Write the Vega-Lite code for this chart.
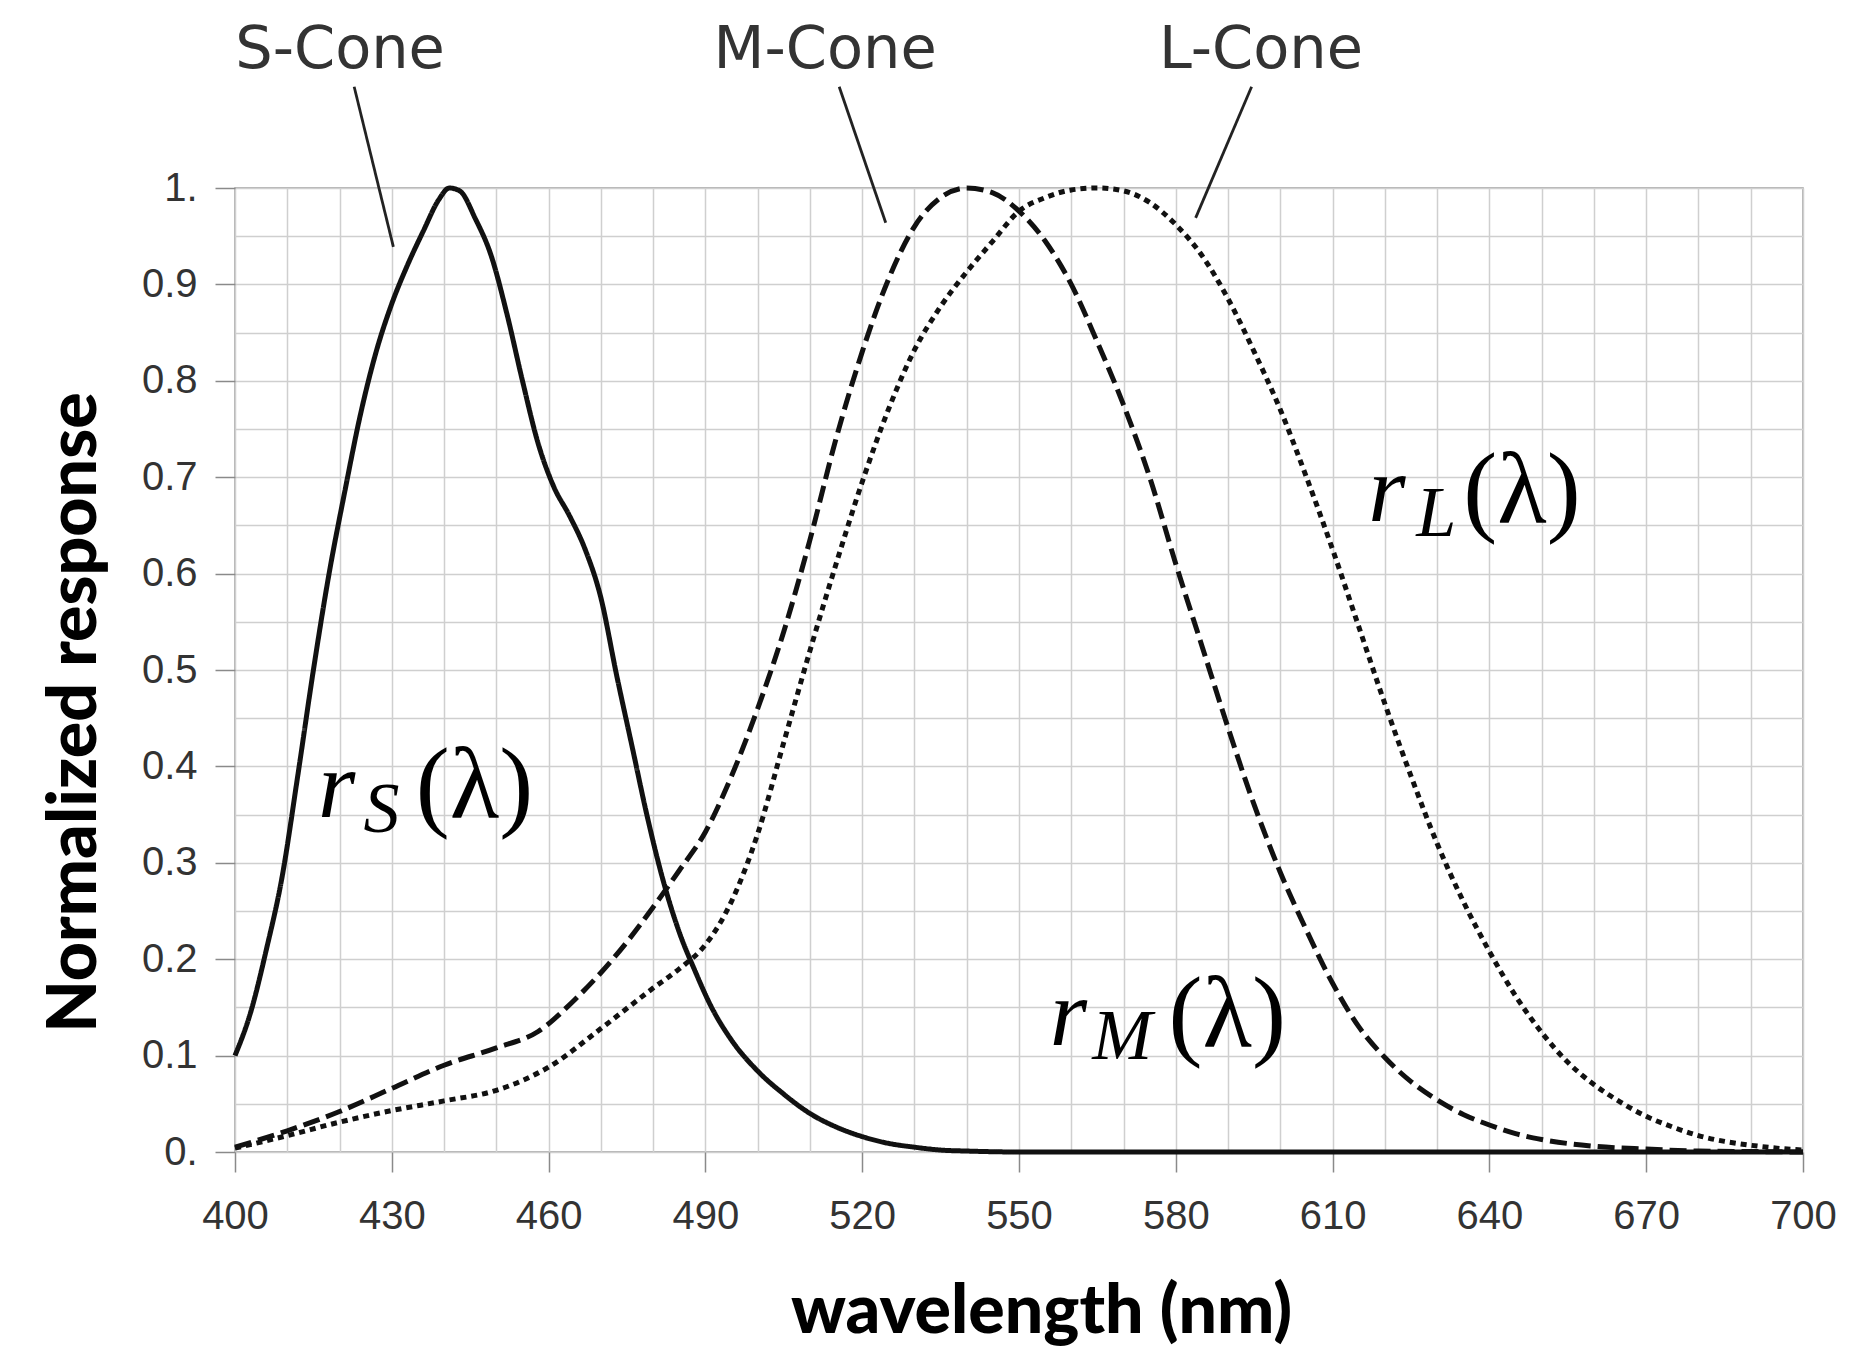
{
  "$schema": "https://vega.github.io/schema/vega-lite/v6.json",
  "width": 1568,
  "height": 964,
  "autosize": {"type": "none"},
  "padding": {"left": 235, "top": 188, "right": 65, "bottom": 199},
  "background": "white",
  "config": {
    "view": {"stroke": "#9a9a9a", "strokeWidth": 1.5}
  },
  "datasets": {
    "curves": [
      {"cone":"S","nm":400,"r":0.10},{"cone":"S","nm":403,"r":0.145},{"cone":"S","nm":406,"r":0.21},{"cone":"S","nm":409,"r":0.285},{"cone":"S","nm":412,"r":0.39},{"cone":"S","nm":415,"r":0.5},{"cone":"S","nm":418,"r":0.6},{"cone":"S","nm":421,"r":0.685},{"cone":"S","nm":424,"r":0.765},{"cone":"S","nm":427,"r":0.83},{"cone":"S","nm":430,"r":0.88},{"cone":"S","nm":433,"r":0.92},{"cone":"S","nm":436,"r":0.955},{"cone":"S","nm":439,"r":0.988},{"cone":"S","nm":441,"r":1.0},{"cone":"S","nm":443,"r":0.997},{"cone":"S","nm":446,"r":0.968},{"cone":"S","nm":449,"r":0.93},{"cone":"S","nm":452,"r":0.87},{"cone":"S","nm":455,"r":0.8},{"cone":"S","nm":458,"r":0.735},{"cone":"S","nm":461,"r":0.69},{"cone":"S","nm":464,"r":0.66},{"cone":"S","nm":467,"r":0.625},{"cone":"S","nm":470,"r":0.575},{"cone":"S","nm":473,"r":0.495},{"cone":"S","nm":476,"r":0.42},{"cone":"S","nm":479,"r":0.345},{"cone":"S","nm":482,"r":0.28},{"cone":"S","nm":485,"r":0.228},{"cone":"S","nm":488,"r":0.188},{"cone":"S","nm":491,"r":0.152},{"cone":"S","nm":495,"r":0.116},{"cone":"S","nm":500,"r":0.084},{"cone":"S","nm":505,"r":0.06},{"cone":"S","nm":510,"r":0.04},{"cone":"S","nm":515,"r":0.026},{"cone":"S","nm":520,"r":0.016},{"cone":"S","nm":525,"r":0.009},{"cone":"S","nm":530,"r":0.005},{"cone":"S","nm":535,"r":0.002},{"cone":"S","nm":540,"r":0.001},{"cone":"S","nm":550,"r":0},{"cone":"S","nm":600,"r":0},{"cone":"S","nm":650,"r":0},{"cone":"S","nm":700,"r":0},
      {"cone":"M","nm":400,"r":0.005},{"cone":"M","nm":410,"r":0.022},{"cone":"M","nm":420,"r":0.042},{"cone":"M","nm":430,"r":0.066},{"cone":"M","nm":440,"r":0.09},{"cone":"M","nm":450,"r":0.108},{"cone":"M","nm":458,"r":0.125},{"cone":"M","nm":465,"r":0.158},{"cone":"M","nm":470,"r":0.186},{"cone":"M","nm":475,"r":0.218},{"cone":"M","nm":480,"r":0.254},{"cone":"M","nm":485,"r":0.292},{"cone":"M","nm":490,"r":0.332},{"cone":"M","nm":495,"r":0.39},{"cone":"M","nm":500,"r":0.46},{"cone":"M","nm":505,"r":0.54},{"cone":"M","nm":510,"r":0.635},{"cone":"M","nm":515,"r":0.74},{"cone":"M","nm":520,"r":0.83},{"cone":"M","nm":525,"r":0.905},{"cone":"M","nm":530,"r":0.96},{"cone":"M","nm":535,"r":0.99},{"cone":"M","nm":540,"r":1.0},{"cone":"M","nm":545,"r":0.995},{"cone":"M","nm":550,"r":0.976},{"cone":"M","nm":555,"r":0.945},{"cone":"M","nm":560,"r":0.9},{"cone":"M","nm":565,"r":0.84},{"cone":"M","nm":570,"r":0.775},{"cone":"M","nm":575,"r":0.7},{"cone":"M","nm":580,"r":0.61},{"cone":"M","nm":585,"r":0.525},{"cone":"M","nm":590,"r":0.44},{"cone":"M","nm":595,"r":0.36},{"cone":"M","nm":600,"r":0.29},{"cone":"M","nm":605,"r":0.23},{"cone":"M","nm":610,"r":0.175},{"cone":"M","nm":615,"r":0.13},{"cone":"M","nm":620,"r":0.098},{"cone":"M","nm":625,"r":0.073},{"cone":"M","nm":630,"r":0.054},{"cone":"M","nm":635,"r":0.039},{"cone":"M","nm":640,"r":0.028},{"cone":"M","nm":645,"r":0.019},{"cone":"M","nm":650,"r":0.013},{"cone":"M","nm":660,"r":0.006},{"cone":"M","nm":670,"r":0.003},{"cone":"M","nm":680,"r":0.001},{"cone":"M","nm":690,"r":0.0005},{"cone":"M","nm":700,"r":0},
      {"cone":"L","nm":400,"r":0.004},{"cone":"L","nm":410,"r":0.017},{"cone":"L","nm":420,"r":0.031},{"cone":"L","nm":430,"r":0.043},{"cone":"L","nm":440,"r":0.053},{"cone":"L","nm":450,"r":0.064},{"cone":"L","nm":460,"r":0.088},{"cone":"L","nm":470,"r":0.128},{"cone":"L","nm":480,"r":0.17},{"cone":"L","nm":485,"r":0.19},{"cone":"L","nm":490,"r":0.215},{"cone":"L","nm":495,"r":0.26},{"cone":"L","nm":500,"r":0.33},{"cone":"L","nm":505,"r":0.425},{"cone":"L","nm":510,"r":0.52},{"cone":"L","nm":515,"r":0.61},{"cone":"L","nm":520,"r":0.695},{"cone":"L","nm":525,"r":0.77},{"cone":"L","nm":530,"r":0.832},{"cone":"L","nm":535,"r":0.877},{"cone":"L","nm":540,"r":0.913},{"cone":"L","nm":545,"r":0.945},{"cone":"L","nm":550,"r":0.976},{"cone":"L","nm":555,"r":0.99},{"cone":"L","nm":560,"r":0.998},{"cone":"L","nm":565,"r":1.0},{"cone":"L","nm":570,"r":0.997},{"cone":"L","nm":575,"r":0.985},{"cone":"L","nm":580,"r":0.962},{"cone":"L","nm":585,"r":0.93},{"cone":"L","nm":590,"r":0.885},{"cone":"L","nm":595,"r":0.83},{"cone":"L","nm":600,"r":0.77},{"cone":"L","nm":605,"r":0.7},{"cone":"L","nm":610,"r":0.625},{"cone":"L","nm":615,"r":0.545},{"cone":"L","nm":620,"r":0.465},{"cone":"L","nm":625,"r":0.39},{"cone":"L","nm":630,"r":0.32},{"cone":"L","nm":635,"r":0.26},{"cone":"L","nm":640,"r":0.208},{"cone":"L","nm":645,"r":0.162},{"cone":"L","nm":650,"r":0.124},{"cone":"L","nm":655,"r":0.093},{"cone":"L","nm":660,"r":0.07},{"cone":"L","nm":665,"r":0.052},{"cone":"L","nm":670,"r":0.037},{"cone":"L","nm":675,"r":0.026},{"cone":"L","nm":680,"r":0.017},{"cone":"L","nm":685,"r":0.011},{"cone":"L","nm":690,"r":0.007},{"cone":"L","nm":695,"r":0.004},{"cone":"L","nm":700,"r":0.002}
    ],
    "leaders": [
      {"cone":"S","nm":422.8,"r":1.105},{"cone":"S","nm":430.3,"r":0.939},
      {"cone":"M","nm":515.6,"r":1.105},{"cone":"M","nm":524.5,"r":0.964},
      {"cone":"L","nm":594.5,"r":1.105},{"cone":"L","nm":583.8,"r":0.969}
    ],
    "labels": [
      {"text":"S-Cone","nm":420.1,"r":1.1245},
      {"text":"M-Cone","nm":512.9,"r":1.1245},
      {"text":"L-Cone","nm":596.3,"r":1.1245}
    ],
    "math": [
      {"text":"r","nm":415.9,"r":0.348,"part":"r"},
      {"text":"S","nm":424.6,"r":0.332,"part":"sub"},
      {"text":"(λ)","nm":434.6,"r":0.346,"part":"arg"},
      {"text":"r","nm":555.9,"r":0.111,"part":"r"},
      {"text":"M","nm":564.0,"r":0.096,"part":"sub"},
      {"text":"(λ)","nm":578.6,"r":0.109,"part":"arg"},
      {"text":"r","nm":616.8,"r":0.655,"part":"r"},
      {"text":"L","nm":626.0,"r":0.639,"part":"sub"},
      {"text":"(λ)","nm":635.0,"r":0.653,"part":"arg"}
    ]
  },
  "layer": [
    {
      "data": {"name": "curves"},
      "mark": {"type": "line", "color": "#111111", "strokeWidth": 5, "interpolate": "monotone", "clip": false},
      "encoding": {
        "x": {
          "field": "nm", "type": "quantitative", "title": "wavelength (nm)",
          "scale": {"domain": [400, 700], "nice": false, "zero": false},
          "axis": {
            "values": [400,410,420,430,440,450,460,470,480,490,500,510,520,530,540,550,560,570,580,590,600,610,620,630,640,650,660,670,680,690,700],
            "grid": true, "gridColor": "#cfcfcf", "gridWidth": 1.5,
            "domain": false,
            "tickSize": 20, "tickWidth": 1.5, "tickColor": "#8a8a8a",
            "tickOpacity": {"condition": {"test": "datum.value % 30 === 10", "value": 1}, "value": 0},
            "labelExpr": "datum.value % 30 === 10 ? datum.label : ''",
            "labelFont": "Liberation Sans", "labelFontSize": 40, "labelColor": "#333333",
            "labelPadding": 24, "labelOverlap": false, "labelFlush": false,
            "titleFont": "Lato", "titleFontSize": 68, "titleFontWeight": 900, "titleColor": "#000000",
            "titleX": 806, "titleY": 180, "titleAlign": "center", "titleBaseline": "alphabetic"
          }
        },
        "y": {
          "field": "r", "type": "quantitative", "title": "Normalized response",
          "scale": {"domain": [0, 1], "nice": false, "zero": false},
          "axis": {
            "values": [0,0.05,0.1,0.15,0.2,0.25,0.3,0.35,0.4,0.45,0.5,0.55,0.6,0.65,0.7,0.75,0.8,0.85,0.9,0.95,1],
            "grid": true, "gridColor": "#cfcfcf", "gridWidth": 1.5,
            "domain": false,
            "tickSize": 20, "tickWidth": 1.5, "tickColor": "#8a8a8a",
            "tickOpacity": {"condition": {"test": "round(datum.value*20) % 2 === 0", "value": 1}, "value": 0},
            "labelExpr": "round(datum.value*20) % 2 === 0 ? (datum.value === 0 ? '0.' : (datum.value === 1 ? '1.' : format(datum.value, '.1f'))) : ''",
            "labelFont": "Liberation Sans", "labelFontSize": 40, "labelColor": "#333333",
            "labelPadding": 18, "labelOverlap": false, "labelFlush": false,
            "titleFont": "Lato", "titleFontSize": 68, "titleFontWeight": 900, "titleColor": "#000000",
            "titleX": -140, "titleY": 524, "titleAngle": 270, "titleAlign": "center", "titleBaseline": "alphabetic"
          }
        },
        "detail": {"field": "cone"},
        "strokeDash": {
          "field": "cone", "type": "nominal",
          "scale": {"domain": ["S", "M", "L"], "range": [[1, 0], [17, 7], [6, 5]]},
          "legend": null
        }
      }
    },
    {
      "data": {"name": "leaders"},
      "mark": {"type": "line", "color": "#222222", "strokeWidth": 2.8, "clip": false},
      "encoding": {
        "x": {"field": "nm", "type": "quantitative", "title": "wavelength (nm)"},
        "y": {"field": "r", "type": "quantitative", "title": "Normalized response"},
        "detail": {"field": "cone"}
      }
    },
    {
      "data": {"name": "labels"},
      "mark": {"type": "text", "font": "DejaVu Sans", "fontSize": 59, "color": "#333333", "align": "center", "baseline": "alphabetic", "clip": false},
      "encoding": {
        "x": {"field": "nm", "type": "quantitative", "title": "wavelength (nm)"},
        "y": {"field": "r", "type": "quantitative", "title": "Normalized response"},
        "text": {"field": "text"}
      }
    },
    {
      "data": {"name": "math"},
      "transform": [{"filter": "datum.part === 'r'"}],
      "mark": {"type": "text", "font": "Liberation Serif", "fontStyle": "italic", "fontSize": 96, "color": "#000000", "align": "left", "baseline": "alphabetic"},
      "encoding": {
        "x": {"field": "nm", "type": "quantitative", "title": "wavelength (nm)"},
        "y": {"field": "r", "type": "quantitative", "title": "Normalized response"},
        "text": {"field": "text"}
      }
    },
    {
      "data": {"name": "math"},
      "transform": [{"filter": "datum.part === 'sub'"}],
      "mark": {"type": "text", "font": "Liberation Serif", "fontStyle": "italic", "fontSize": 72, "color": "#000000", "align": "left", "baseline": "alphabetic"},
      "encoding": {
        "x": {"field": "nm", "type": "quantitative", "title": "wavelength (nm)"},
        "y": {"field": "r", "type": "quantitative", "title": "Normalized response"},
        "text": {"field": "text"}
      }
    },
    {
      "data": {"name": "math"},
      "transform": [{"filter": "datum.part === 'arg'"}],
      "mark": {"type": "text", "font": "Liberation Serif", "fontSize": 102, "color": "#000000", "align": "left", "baseline": "alphabetic"},
      "encoding": {
        "x": {"field": "nm", "type": "quantitative", "title": "wavelength (nm)"},
        "y": {"field": "r", "type": "quantitative", "title": "Normalized response"},
        "text": {"field": "text"}
      }
    }
  ]
}
